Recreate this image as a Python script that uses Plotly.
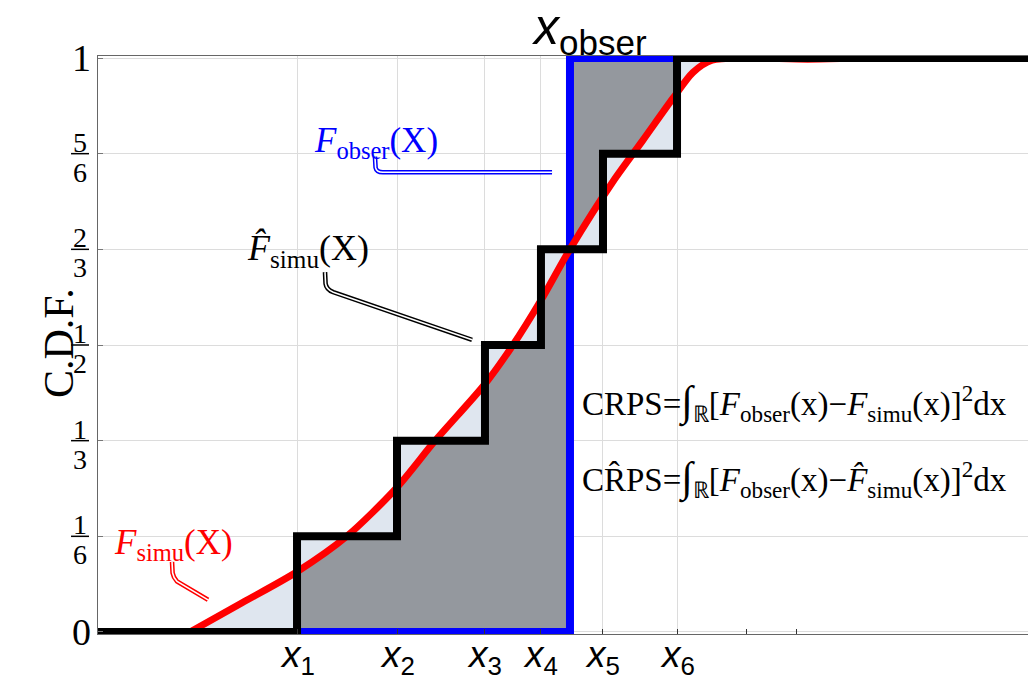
import plotly.graph_objects as go

# ---- data -------------------------------------------------------------
# ordered ensemble members x1..x6 (x axis runs 0..10)
member_x = [2.14, 3.215, 4.161, 4.763, 5.430, 6.226]
member_names = ["1", "2", "3", "4", "5", "6"]
# observed value
obs_x = 5.075
# unlabelled minor ticks on the x axis
extra_tick_x = [6.978, 7.516]

# continuous simulated CDF F_simu
simu_x = [0.989, 1.55, 2.140, 2.677, 3.215, 3.624, 4.161, 4.462, 4.763,
          5.075, 5.538, 5.860, 6.183, 6.398, 6.602, 6.95, 7.63, 8.30, 10.0]
simu_cdf = [0.0, 0.051, 0.105, 0.167, 0.252, 0.333, 0.432, 0.500, 0.578,
            0.667, 0.785, 0.857, 0.930, 0.975, 0.996, 1.0, 0.998, 1.0, 1.0]

# y ticks as fractions
y_levels = [0, 1 / 6, 1 / 3, 1 / 2, 2 / 3, 5 / 6, 1]
y_num = ["0", "1", "1", "1", "2", "5", "1"]
y_den = ["", "6", "3", "2", "3", "6", ""]

# ---- styling ----------------------------------------------------------
X_MIN, X_MAX = 0.0, 10.0
Y_PAD = 0.0035
SERIF = "Liberation Serif"
SANS = "Liberation Sans"
RED, BLUE, BLACK = "#ff0000", "#0000ff", "#000000"
GREY_FILL = "#94989e"
LIGHT_FILL = "#dfe6ef"
GRID = "#dcdcdc"

n_mem = len(member_x)


def ecdf(x):
    return sum(1 for m in member_x if m <= x) / n_mem


def stair(x_start, x_end):
    """Vertices of the empirical CDF between x_start and x_end."""
    xs, ys = [x_start], [ecdf(x_start)]
    for m in member_x:
        if x_start < m <= x_end:
            xs += [m, m]
            ys += [ys[-1], ecdf(m)]
    if xs[-1] != x_end:
        xs.append(x_end)
        ys.append(ys[-1])
    return xs, ys


fig = go.Figure()

# grey area: below the ensemble CDF left of the observation
gx, gy = stair(member_x[0], obs_x)
fig.add_trace(go.Scatter(x=gx + [obs_x, member_x[0]], y=gy + [0, 0],
                         fill="toself", fillcolor=GREY_FILL, mode="lines",
                         line=dict(width=0), hoverinfo="skip", showlegend=False))
# grey area: above the ensemble CDF right of the observation
gx, gy = stair(obs_x, member_x[-1])
fig.add_trace(go.Scatter(x=gx + [obs_x], y=gy + [1],
                         fill="toself", fillcolor=GREY_FILL, mode="lines",
                         line=dict(width=0), hoverinfo="skip", showlegend=False))

# light area between the continuous and the empirical CDF
sx, sy = stair(simu_x[0], simu_x[-1])
fig.add_trace(go.Scatter(x=sx, y=sy, mode="lines", line=dict(width=0),
                         hoverinfo="skip", showlegend=False))
fig.add_trace(go.Scatter(x=simu_x, y=simu_cdf, mode="lines", fill="tonexty",
                         fillcolor=LIGHT_FILL,
                         line=dict(width=0, shape="spline", smoothing=0.8, color=RED),
                         hoverinfo="skip", showlegend=False))

# observation CDF (Heaviside step)
fig.add_trace(go.Scatter(x=[X_MIN, obs_x, X_MAX], y=[0, 1, 1], mode="lines",
                         line=dict(color=BLUE, width=8, shape="hv"),
                         showlegend=False))
# continuous simulated CDF
fig.add_trace(go.Scatter(x=simu_x, y=simu_cdf, mode="lines",
                         line=dict(color=RED, width=7, shape="spline", smoothing=0.8),
                         showlegend=False))
# empirical CDF of the ensemble
fig.add_trace(go.Scatter(x=[X_MIN] + member_x + [X_MAX],
                         y=[0] + [ecdf(m) for m in member_x] + [1],
                         mode="lines", line=dict(color=BLACK, width=8, shape="hv"),
                         showlegend=False))

annotations = []
shapes = []

# x tick labels
for xv, name in zip(member_x, member_names):
    annotations.append(dict(x=xv, y=0, xref="x", yref="y", xanchor="center",
                            yanchor="top", yshift=0, showarrow=False,
                            text=f"<i>x</i><sub>{name}</sub>",
                            font=dict(family=SANS, size=37, color=BLACK)))
# observation label on top
annotations.append(dict(x=5.28, y=1, xref="x", yref="y", xanchor="center",
                        yanchor="bottom", yshift=-6, showarrow=False,
                        text="<i>x</i><sub>obser</sub>",
                        font=dict(family=SANS, size=50, color=BLACK)))

# y tick labels (fractions)
for lv, num, den in zip(y_levels, y_num, y_den):
    if den == "":
        annotations.append(dict(x=0, y=lv, xref="paper", yref="y",
                                xanchor="right", yanchor="middle", xshift=-5,
                                showarrow=False, text=num,
                                font=dict(family=SERIF, size=38, color=BLACK)))
    else:
        annotations.append(dict(x=0, y=lv, xref="paper", yref="y",
                                xanchor="center", yanchor="bottom", xshift=-18,
                                yshift=-6, showarrow=False, text=num,
                                font=dict(family=SERIF, size=28, color=BLACK)))
        annotations.append(dict(x=0, y=lv, xref="paper", yref="y",
                                xanchor="center", yanchor="top", xshift=-18,
                                yshift=-1, showarrow=False, text=den,
                                font=dict(family=SERIF, size=28, color=BLACK)))
        shapes.append(dict(type="line", xref="paper", yref="y",
                           x0=-0.0290, x1=-0.0097, y0=lv, y1=lv,
                           line=dict(color=BLACK, width=1.5)))

# y axis title
annotations.append(dict(x=-0.068, y=0.503, xref="paper", yref="y",
                        textangle=-90, showarrow=False, text="C.D.F.",
                        font=dict(family=SERIF, size=42, color=BLACK)))

# curve labels
annotations.append(dict(x=2.301, y=0.852, xref="x", yref="y", xanchor="left",
                        yanchor="middle", showarrow=False,
                        text="<i>F</i><sub>obser</sub>(X)",
                        font=dict(family=SERIF, size=35, color=BLUE)))
annotations.append(dict(x=1.58, y=0.665, xref="x", yref="y", xanchor="left",
                        yanchor="middle", showarrow=False,
                        text="<i>F\u0302</i><sub>simu</sub>(X)",
                        font=dict(family=SERIF, size=36, color=BLACK)))
annotations.append(dict(x=0.15, y=0.152, xref="x", yref="y", xanchor="left",
                        yanchor="middle", showarrow=False,
                        text="<i>F</i><sub>simu</sub>(X)",
                        font=dict(family=SERIF, size=35, color=RED)))

# score formulas
INTEGRAL = "<span style='font-size:42px'>\u222b</span>"
annotations.append(dict(x=5.183, y=0.399, xref="x", yref="y", xanchor="left",
                        yanchor="middle", showarrow=False,
                        text="CRPS=" + INTEGRAL + "<sub>\u211d</sub>[<i>F</i><sub>obser</sub>(x)\u2212"
                             "<i>F</i><sub>simu</sub>(x)]<sup>2</sup>dx",
                        font=dict(family=SERIF, size=33, color=BLACK)))
annotations.append(dict(x=5.183, y=0.268, xref="x", yref="y", xanchor="left",
                        yanchor="middle", showarrow=False,
                        text="CR\u0302PS=" + INTEGRAL + "<sub>\u211d</sub>[<i>F</i><sub>obser</sub>(x)\u2212"
                             "<i>F\u0302</i><sub>simu</sub>(x)]<sup>2</sup>dx",
                        font=dict(family=SERIF, size=33, color=BLACK)))


def leader(path, color):
    """Double-stroked leader line from a label to its curve."""
    shapes.append(dict(type="path", xref="x", yref="y", path=path,
                       line=dict(color=color, width=4.6)))
    shapes.append(dict(type="path", xref="x", yref="y", path=path,
                       line=dict(color="white", width=1.6)))


leader("M 2.978 0.828 L 2.985 0.809 Q 2.995 0.800 3.08 0.801 L 4.882 0.801", BLUE)
leader("M 2.441 0.627 L 2.447 0.607 Q 2.455 0.597 2.53 0.592 L 4.022 0.509", BLACK)
leader("M 0.796 0.122 L 0.802 0.103 Q 0.81 0.095 0.85 0.088 L 1.183 0.056", RED)

fig.update_layout(
    width=1028, height=686,
    margin=dict(l=98, r=0, t=56, b=52, pad=0),
    paper_bgcolor="white", plot_bgcolor="white",
    annotations=annotations, shapes=shapes,
    xaxis=dict(range=[X_MIN, X_MAX], tickvals=member_x, showticklabels=False,
               ticks="inside", ticklen=5, tickcolor="#333", tickwidth=1,
               showgrid=True, gridcolor=GRID, gridwidth=1, zeroline=False,
               showline=True, linecolor="#666", linewidth=1, mirror=True,
               minor=dict(tickvals=extra_tick_x, ticks="inside", ticklen=5,
                          tickcolor="#333", showgrid=False)),
    yaxis=dict(range=[-Y_PAD, 1 + Y_PAD], tickvals=y_levels, showticklabels=False,
               ticks="inside", ticklen=5, tickcolor="#777", tickwidth=1,
               showgrid=True, gridcolor=GRID, gridwidth=1, zeroline=False,
               showline=True, linecolor="#666", linewidth=1),
)

fig.write_html("out.html")
